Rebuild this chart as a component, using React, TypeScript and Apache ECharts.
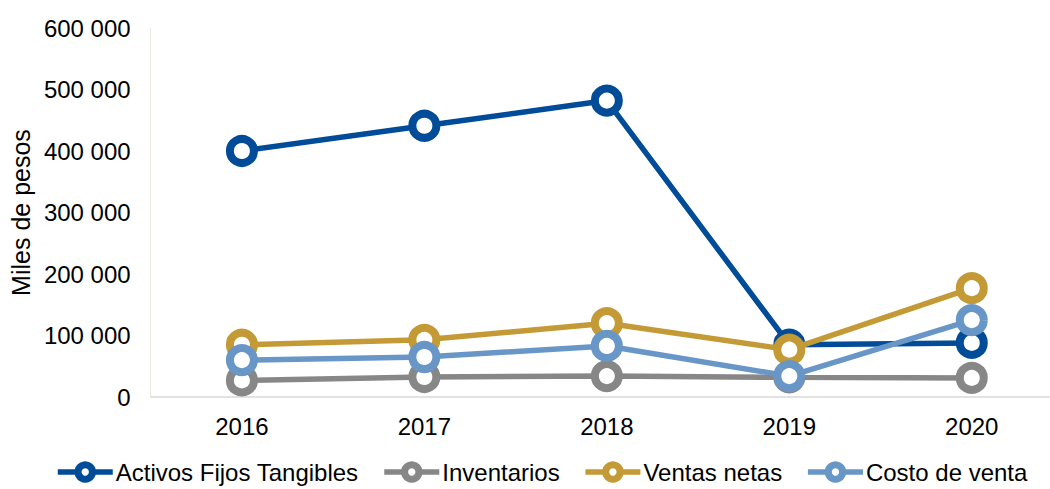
import React, { useEffect, useRef } from "react";
import * as echarts from "echarts";

const years = ["2016", "2017", "2018", "2019", "2020"];
const activos = [400000, 441000, 482000, 85000, 88000];
const inventarios = [27000, 32500, 34000, 32000, 31000];
const ventas = [85000, 93000, 120000, 77000, 177000];
const costo = [60000, 65000, 83000, 34000, 125000];

const seriesNames = ["Activos Fijos Tangibles", "Inventarios", "Ventas netas", "Costo de venta"];
const seriesData = [activos, inventarios, ventas, costo];
const seriesColors = ["#004c99", "#878787", "#c49a36", "#6896c6"];

const FONT = "'Liberation Sans', Arial, sans-serif";

function fmt(v: number): string {
  return String(v).replace(/\B(?=(\d{3})+(?!\d))/g, " ");
}

export default function App() {
  const ref = useRef<HTMLDivElement>(null);
  useEffect(() => {
    if (!ref.current) return;
    const chart = echarts.init(ref.current, undefined, { renderer: "svg" });
    chart.setOption({
      animation: false,
      backgroundColor: "#ffffff",
      grid: { left: 148, top: 28, width: 915, height: 369, containLabel: false },
      xAxis: {
        type: "category",
        data: years,
        boundaryGap: true,
        axisLine: { show: true, lineStyle: { color: "#d9d9d9", width: 1.5 } },
        axisTick: { show: false },
        axisLabel: { color: "#000", fontSize: 24, fontFamily: FONT, margin: 17 },
        splitLine: { show: false },
      },
      yAxis: {
        type: "value",
        min: 0,
        max: 600000,
        interval: 100000,
        name: "Miles de pesos",
        nameLocation: "middle",
        nameGap: 113,
        nameRotate: 90,
        nameTextStyle: { color: "#000", fontSize: 25, fontFamily: FONT },
        axisLine: { show: true, lineStyle: { color: "#ece8dc", width: 1 } },
        axisTick: { show: false },
        axisLabel: {
          color: "#000",
          fontSize: 24,
          fontFamily: FONT,
          margin: 20,
          formatter: (v: number) => fmt(v),
        },
        splitLine: { show: false },
      },
      legend: {
        top: 460,
        left: 55,
        padding: 0,
        itemWidth: 55,
        itemHeight: 18,
        itemGap: 23,
        lineStyle: { width: 5.5 },
        itemStyle: { borderWidth: 7 },
        textStyle: { color: "#000", fontSize: 24, fontFamily: FONT, padding: [0, 0, 0, -2] },
        data: seriesNames,
      },
      series: seriesNames.map((name, i) => ({
        name,
        type: "line",
        data: seriesData[i],
        symbol: "circle",
        symbolSize: 24,
        showSymbol: true,
        lineStyle: { color: seriesColors[i], width: 5.5 },
        itemStyle: { color: "#ffffff", borderColor: seriesColors[i], borderWidth: 8 },
        z: 2 + i,
      })),
    });
    return () => chart.dispose();
  }, []);
  return (
    <div
      style={{
        position: "fixed",
        left: 0,
        top: 0,
        width: 1050,
        height: 489,
        overflow: "hidden",
        background: "#fff",
      }}
    >
      <div ref={ref} style={{ width: 1090, height: 489 }} />
    </div>
  );
}
